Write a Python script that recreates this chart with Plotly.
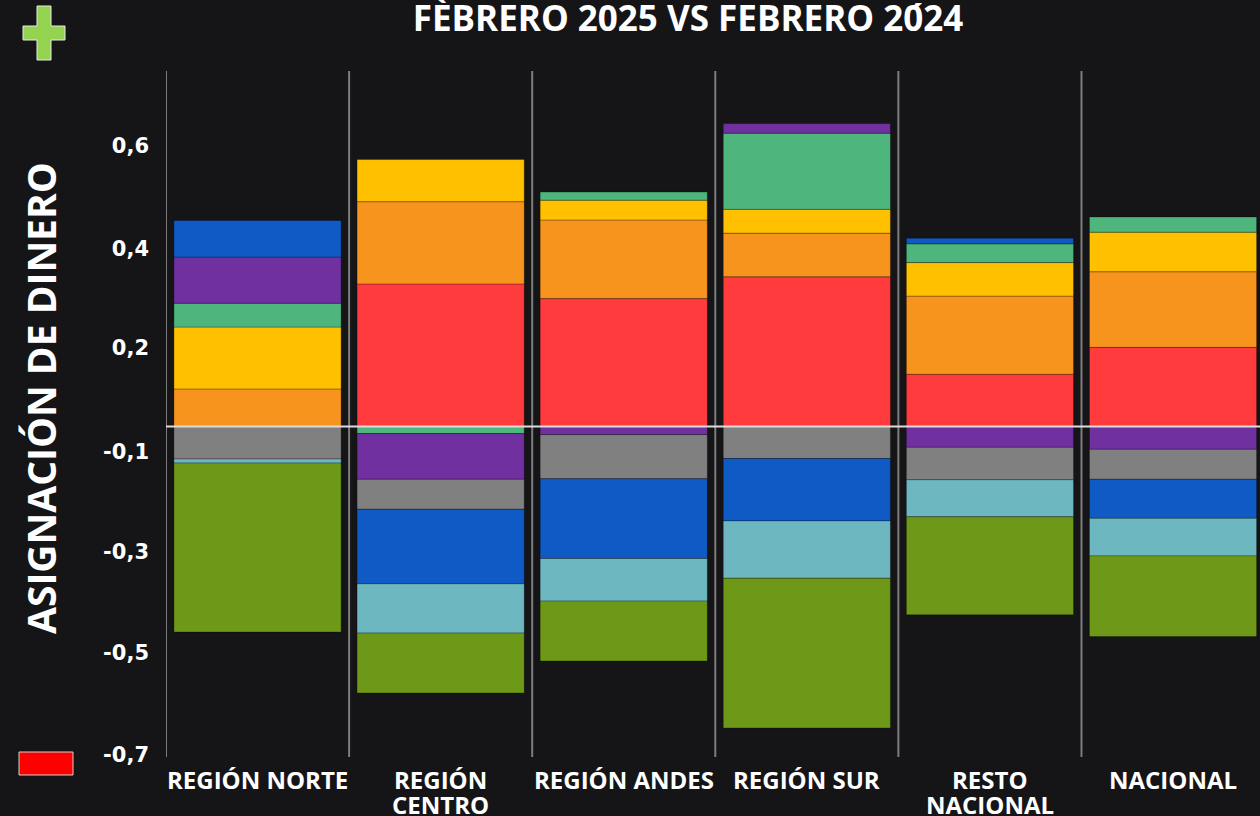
import plotly.graph_objects as go

# ---------------- data ----------------
CATEGORIES = ["REGIÓN NORTE", "REGIÓN<br>CENTRO", "REGIÓN ANDES", "REGIÓN SUR",
              "RESTO<br>NACIONAL", "NACIONAL"]

rojo     = [0.000, 0.281, 0.252, 0.295, 0.103, 0.156]
naranja  = [0.074, 0.162, 0.155, 0.086, 0.154, 0.149]
amarillo = [0.122, 0.083, 0.039, 0.047, 0.066, 0.078]
verde    = [0.047, -0.014, 0.016, 0.150, 0.037, 0.030]
morado   = [0.091, -0.090, -0.016, 0.019, -0.041, -0.045]
gris     = [-0.064, -0.059, -0.087, -0.063, -0.064, -0.059]
azul     = [0.072, -0.147, -0.157, -0.123, 0.011, -0.077]
celeste  = [-0.008, -0.097, -0.084, -0.113, -0.073, -0.074]
oliva    = [-0.333, -0.118, -0.118, -0.295, -0.193, -0.159]

SERIES_NAMES = ["Serie 1", "Serie 2", "Serie 3", "Serie 4", "Serie 5",
                "Serie 6", "Serie 7", "Serie 8", "Serie 9"]
SERIES_VALUES = [rojo, naranja, amarillo, verde, morado, gris, azul, celeste, oliva]
SERIES_COLORS = ["#FF3B3D", "#F7941E", "#FFC000", "#4EB67D", "#7030A0",
                 "#808080", "#0F5AC4", "#6DB8C0", "#6E9918"]

Y_TICK_VALUES = [0.553, 0.350, 0.155, -0.050, -0.247, -0.446, -0.647]
Y_TICK_TEXT = ["0,6", "0,4", "0,2", "-0,1", "-0,3", "-0,5", "-0,7"]

TITLE = "FÈBRERO 2025 VS FEBRERO 20\u030124"
Y_TITLE = "ASIGNACIÓN DE DINERO"

BG = "#151517"

# ---------------- figure ----------------
fig = go.Figure()
for name, vals, col in zip(SERIES_NAMES, SERIES_VALUES, SERIES_COLORS):
    fig.add_trace(go.Bar(
        x=CATEGORIES, y=vals, name=name,
        marker=dict(color=col, line=dict(color="rgba(0,0,0,0.28)", width=1)),
    ))

n = len(CATEGORIES)
shapes = []
# category separators
for i in range(n):
    shapes.append(dict(type="line", xref="x", yref="paper", x0=i - 0.5, x1=i - 0.5,
                       y0=0, y1=1, line=dict(color="#7c7c7c", width=2), layer="below"))
# zero line
shapes.append(dict(type="line", xref="paper", yref="y", x0=0, x1=1, y0=0, y1=0,
                   line=dict(color="#dcdcdc", width=2), layer="above"))
# red box bottom-left
shapes.append(dict(type="rect", xref="paper", yref="paper",
                   xsizemode="pixel", ysizemode="pixel", xanchor=0, yanchor=0,
                   x0=-147, x1=-93, y0=-18, y1=5,
                   fillcolor="#FF0000", line=dict(color="#d0d0d0", width=1)))
# green plus top-left
plus_path = ("M -129,65 L -115,65 L -115,45 L -101,45 L -101,31 L -115,31 "
             "L -115,11 L -129,11 L -129,31 L -143,31 L -143,45 L -129,45 Z")
shapes.append(dict(type="path", xref="paper", yref="paper",
                   xsizemode="pixel", ysizemode="pixel", xanchor=0, yanchor=1,
                   path=plus_path, fillcolor="#94D34F",
                   line=dict(color="#e8e8e8", width=1)))

annotations = [dict(text=Y_TITLE, textangle=-90, xref="paper", yref="paper",
                    x=0, xshift=-126, y=(757 - 398) / 686, xanchor="center",
                    yanchor="middle", showarrow=False,
                    font=dict(family="Open Sans", size=39, color="white",
                              weight="bold"))]
# category labels (one annotation per text line)
for cat in CATEGORIES:
    for j, line in enumerate(cat.split("<br>")):
        annotations.append(dict(text=line, xref="x", yref="paper", x=cat, y=0,
                                yshift=-(22 + 25 * j), xanchor="center",
                                yanchor="middle", showarrow=False,
                                font=dict(family="Open Sans", size=24,
                                          color="white", weight="bold")))

fig.update_layout(
    width=1260, height=816,
    barmode="relative", bargap=0.087,
    paper_bgcolor=BG, plot_bgcolor=BG,
    margin=dict(l=166, r=0, t=71, b=59, autoexpand=False),
    showlegend=False,
    shapes=shapes,
    annotations=annotations,
    title=dict(text=TITLE, x=688 / 1260, xanchor="center", xref="container",
               y=1 - 19 / 816, yanchor="middle", yref="container",
               font=dict(family="Open Sans", size=35, color="white", weight="bold")),
    xaxis=dict(range=[-0.5, 5.475], showgrid=False, zeroline=False,
               showline=False, ticks="", showticklabels=False, automargin=False),
    yaxis=dict(range=[-0.6512, 0.7005], showgrid=False, zeroline=False,
               showline=False, ticks="", tickvals=Y_TICK_VALUES,
               ticktext=Y_TICK_TEXT, ticklabelstandoff=16, automargin=False,
               tickfont=dict(family="DejaVu Sans", size=21, color="white",
                             weight="bold")),
)

fig.write_html(
    "out.html",
    config={"displayModeBar": False},
    post_script=("document.body.style.margin='0';"
                 "document.body.style.background='%s';"
                 "document.body.style.overflow='hidden';" % BG),
)
